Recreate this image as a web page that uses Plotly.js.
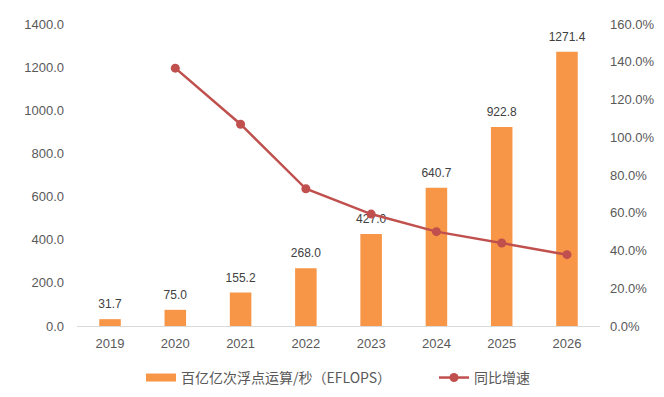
<!DOCTYPE html>
<html><head><meta charset="utf-8">
<script src="https://cdn.plot.ly/plotly-3.0.1.min.js"></script>
<style>html,body{margin:0;padding:0;background:#fff}#c{width:664px;height:397px}</style>
</head><body><div id="c"></div>
<script>
const years = ['2019','2020','2021','2022','2023','2024','2025','2026'];
const eflops = [31.7, 75.0, 155.2, 268.0, 427.0, 640.7, 922.8, 1271.4];
const growth = [null, 136.6, 106.9, 72.7, 59.3, 50.0, 44.0, 37.8];
const barName = '百亿亿次浮点运算/秒（EFLOPS）';
const lineName = '同比增速';

const font = 'Liberation Sans, Arial, Noto Sans CJK SC, sans-serif';
const cjk = 'Noto Sans CJK SC, Liberation Sans, sans-serif';
const barColor = '#F79646';
const lineColor = '#C0504D';
const data = [
  {type:'bar', x:years, y:eflops, name:barName, marker:{color:barColor}, width:0.33, showlegend:false, hoverinfo:'skip'},
  {type:'scatter', mode:'markers+text', x:years, y:eflops, text:eflops.map(v=>v.toFixed(1)), textposition:'top center',
   marker:{size:11, color:'rgba(0,0,0,0)'},
   textfont:{size:12, color:'#404040', family:font}, showlegend:false, cliponaxis:false},
  {type:'scatter', mode:'lines', x:[null], y:[null], name:barName, line:{color:barColor, width:8}, legend:'legend'},
  {type:'scatter', mode:'lines+markers', x:years, y:growth, name:lineName, yaxis:'y2',
   line:{color:lineColor, width:2.5}, marker:{color:lineColor, size:9}, legend:'legend2'}
];
const legendBase = {orientation:'h', xref:'container', yref:'container', yanchor:'middle', y:0.048,
  font:{size:14, color:'#595959', family:cjk}, bgcolor:'rgba(0,0,0,0)', borderwidth:0};
const layout = {
  width:664, height:397,
  margin:{l:77, r:64, t:24, b:71},
  paper_bgcolor:'#fff', plot_bgcolor:'#fff',
  font:{family:font, size:13, color:'#595959'},
  xaxis:{type:'category', showline:true, linecolor:'#D9D9D9', linewidth:1, ticks:'', ticklabelstandoff:5, tickfont:{size:13, color:'#595959'}, showgrid:false},
  yaxis:{range:[0,1400], dtick:200, tickformat:'.1f', showgrid:false, zeroline:false, showline:false, ticks:'', ticklabelstandoff:12, tickfont:{size:13, color:'#595959'}},
  yaxis2:{overlaying:'y', side:'right', range:[0,160], dtick:20, ticksuffix:'%', tickformat:'.1f', showgrid:false, zeroline:false, showline:false, ticks:'', ticklabelstandoff:9, tickfont:{size:13, color:'#595959'}},
  legend:Object.assign({}, legendBase, {x:141/664, xanchor:'left'}),
  legend2:Object.assign({}, legendBase, {x:434/664, xanchor:'left'}),
  showlegend:true
};
Plotly.newPlot('c', data, layout, {displayModeBar:false, staticPlot:true});
</script></body></html>
